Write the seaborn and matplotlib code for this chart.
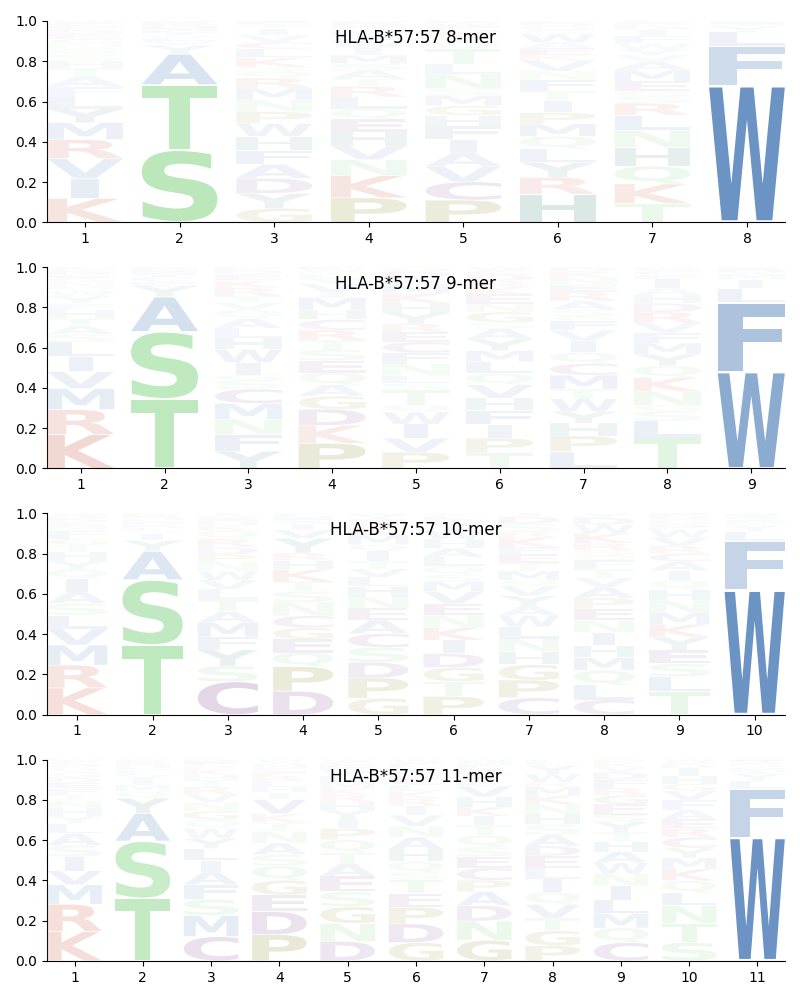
# logos de HLA-B*57:57, uno por largo de peptido
import matplotlib
matplotlib.use('Agg')
import matplotlib.pyplot as plt
import matplotlib.patheffects as pe
from matplotlib.transforms import Affine2D
import seaborn as sns

titles = ['HLA-B*57:57 8-mer', 'HLA-B*57:57 9-mer', 'HLA-B*57:57 10-mer', 'HLA-B*57:57 11-mer']

# letras de abajo hacia arriba en cada posicion, alturas en %
letters_8 = ["KIVRMYLFATHSQNGEDPCW", "STAYVLQIMFNEHGDKRCPW", "GYDAFHWPNMRQSKLCVITE", "PKNVHEQLRTASMIWYFGDC",
             "PCVAIFHGMSNLTQYKDEWR", "HRYLQMPITFNVKEAWSGDC", "TKQHNLRSGEMAVYWFIDPC", "WFLYIMVHTQSNAGKRDEPC"]
heights_8 = [
    [12, 10, 10, 9.5, 8.5, 7, 6, 5, 5, 4.5, 3.5, 3, 3, 2.5, 2.5, 2.5, 2, 2, 1.5, 1],
    [35.5, 32, 15, 4.5, 2, 1.5, 1.2, 1, .8, .8, .7, .6, .6, .5, .5, .4, .4, .3, .3, .2],
    [6.5, 7, 7, 6.5, 6.5, 6.5, 6, 5.5, 5.5, 5.5, 4.7, 3, 2, 4.5, 4, 3, 3.5, 3, 2, 1.5],
    [11.5, 10.5, 7.5, 6.5, 6.5, 6, 5, 5.5, 5, 3.5, 4, 3.3, 4, 3.5, 3.5, 2.5, 2, 2, 1.5, 1],
    [10.8, 8.8, 7.5, 6.5, 6.5, 6.5, 5.2, 4.8, 5, 3.2, 7, 4.8, 7.5, 3, 2.5, 2, 2, 1.5, 1.5, 1],
    [13.5, 8.2, 7.2, 6.5, 6, 6, 5.5, 5.5, 4.8, 5.5, 4.2, 5, 2.7, 3.3, 2.8, 4, 2, 1.8, 1.5, 1],
    [8.8, 9.2, 8.3, 8.8, 8, 7, 5.6, 3.3, 2.3, 4.8, 5.2, 4, 3, 2.5, 3, 3.5, 3, 1.5, 1.5, 1],
    [68, 19.5, 7, 3, .5, .4, .3, .2, .2, .15, .1, .1, .1, .1, .1, .1, .05, .05, .05, .05],
]

letters_9 = ["KRMVILSATHFYWQNGEDPC", "TSAYEVLQIMFNHGDKRCPW", "YFNMCSGIWHLAQVTRKEDP", "PKDGAQESTRCHMIVYLNWF",
             "PVIWQTSLNFCERYHKMADG", "TPIFHVQLMYASGNEKRDCW", "LPHYWTMCQIVFGSARENKD", "TLSGNKQYMFVRDHAIECWP",
             "WFLIMYVHTQSNAGKRDEPC"]
heights_9 = [
    [17, 12.5, 10.5, 8.5, 7.5, 7.3, 4, 4, 4, 4, 3.3, 3.7, 2.5, 2.3, 2.2, 2, 1.8, 1.5, 1.2, 1],
    [34.5, 33.5, 17.2, 5.5, 2, 1, .8, .7, .7, .6, .6, .5, .5, .4, .4, .3, .3, .2, .2, .1],
    [8.2, 8, 7.2, 7.5, 6.8, 4.3, 2.5, 5.8, 6.3, 5.3, 4.7, 4.6, 4, 3.6, 3, 4, 3.5, 2.8, 2, 1.5],
    [12, 8.5, 7.7, 6.3, 5.3, 5.8, 5.8, 5.2, 4.5, 4.8, 5, 4.7, 5.8, 2.7, 4, 2.2, 2, 1.6, 1.2, .8],
    [7.5, 6.5, 6.5, 5.5, 3.3, 7, 3, 3.5, 5.5, 5, 5, 4.5, 4, 5, 4.5, 4.5, 4, 3, 3, 2],
    [7.5, 7, 6.5, 6.8, 5.8, 6.5, 5.3, 5.7, 5.3, 5.5, 5, 3, 5, 4, 4.5, 3.5, 3, 3, 2, 1.5],
    [8, 7.2, 6, 5.5, 6, 4.5, 6.5, 5.5, 5.2, 5.5, 4.7, 4.7, 2, 3, 4.2, 4.2, 3.5, 3.3, 2.6, 2.2],
    [14.5, 8, 4.7, 2.7, 6.5, 6.7, 5.6, 5.5, 5.2, 5, 4.7, 5, 4.2, 4, 3.3, 4.3, 2, 1.5, 1, 1],
    [48, 34.5, 7, 4.5, 2.7, .6, .5, .4, .3, .3, .2, .2, .2, .1, .1, .1, .1, .1, .1, .1],
]

letters_10 = ["KRMVLSAIQYHTGFNEDPCW", "TSAYIQLMVFNEHGDKRCPW", "CSYFMATLVWNPDRQKHEGI", "DPQEGCNSTKHRYVIAFMLW",
              "GPDSCAENHLVTIQMKRFYW", "PTGDIKNEVMSQLAHWYRFC", "CPGHNLWAYVQMTEFKRSDI", "CLQMHINEPAVTFGSRKWDY",
              "TLSEYKMNHQIACRVWPGDF", "WFLYIMVHTQSNAGKRDEPC"]
heights_10 = [
    [13.3, 11.3, 10, 8, 6.7, 6, 5.7, 6.5, 4.8, 4, 4.6, 3.5, 3, 4, 2, 2, 1.6, 1.2, 1, .8],
    [34.5, 32.5, 14, 5.5, 3.5, 1.5, 1.3, 1, .9, .8, .7, .6, .6, .5, .5, .4, .4, .3, .3, .2],
    [15.8, 7.5, 7.8, 6.2, 6.8, 5.3, 6, 4.8, 4.3, 4.3, 4.5, 3.5, 3.5, 4, 4, 2.5, 2, 1.5, 1.2, 1],
    [11.3, 11.8, 6.7, 6.5, 5.5, 5.8, 6.5, 5.3, 4.8, 5.7, 4.3, 3.7, 7, 4, 3, 1.5, 1.2, 1, .8, .5],
    [7.7, 9.5, 7.3, 7, 6.5, 6.3, 5.7, 5.3, 4.8, 4.3, 4, 3.6, 4.7, 3, 4.7, 3, 2.5, 2, 1.5, 1],
    [8.5, 7, 6.5, 6.5, 6.2, 6, 5.7, 5.3, 5.7, 4.7, 3.2, 4, 4.2, 4.2, 4.2, 4, 3.5, 2, 1.5, 1],
    [8, 8.3, 7.3, 6.2, 6, 5.7, 5.3, 4.3, 5, 4.7, 2.7, 4.3, 3.7, 4.2, 3.3, 4.7, 2.5, 4, 3.3, 1.5],
    [7, 6.8, 7, 6, 5.7, 6, 5.7, 5.5, 5, 5.1, 4.5, 4, 4.2, 2.2, 2.5, 3.3, 4.7, 4, 3.3, 2],
    [11, 7.2, 6.2, 6.5, 6.2, 6, 5.7, 6, 5, 4.5, 4.7, 4.3, 3.7, 3.8, 4, 3.7, 2.5, 2.5, 1.5, 1.3],
    [61.5, 24, 5, 3, .8, .7, .6, .5, .4, .4, .4, .3, .3, .3, .3, .3, .2, .2, .1, .1],
]

letters_11 = ["KRMVISALYHNTFEDGQPCW", "TSAYQMIVLFNEHGDKRCPW", "CMSFAILYWQGNVRTHKPED", "PDEGQSANTKVIHLRFCMYW",
              "DNGSEATQPIYHRKMLVFCW", "GDPETSQHANVIRKLCMYFW", "GNDAPCESQTIKHVLYRFMW", "PGTVQILEDASHNKMRWYCF",
              "CQMLINWAHTYSEGRFDVKP", "STNLQKMYCREAFVGHIDPW", "WFLYIMVHTQSNAGKRDEPC"]
heights_11 = [
    [14.6, 13.7, 9.7, 7, 7, 5.8, 5.8, 5, 3.7, 4, 3.5, 3, 3.3, 3, 2.5, 2.5, 2, 2, 1.5, 1],
    [31, 28.5, 13.7, 7.7, 3.3, 3.3, 3.3, 1.5, 1.2, 1, .8, .8, .7, .7, .6, .5, .5, .4, .3, .3],
    [11.5, 10, 7.7, 7, 6, 5.5, 5.7, 4.7, 4.7, 4.2, 4.2, 4, 3.8, 3.8, 3, 2.5, 2.5, 2, 1.5, 1.3],
    [12.5, 11, 8, 7, 6.8, 5.5, 5.5, 5.5, 4.3, 4.2, 6.8, 3.3, 2.5, 3, 2.5, 2, 2, 1.8, 1.3, .7],
    [9, 8.5, 7.7, 7, 7.2, 5.8, 5.2, 6, 5.3, 4.3, 4.2, 3.8, 3.3, 3, 3, 3, 2.5, 2.5, 1.5, 1],
    [8.3, 8.5, 7.5, 6.3, 6.3, 3.3, 5, 5.5, 5.5, 5, 5, 4.2, 3.3, 3.3, 3, 3, 2.5, 2.5, 2, 1.5],
    [9.6, 9, 7.2, 6.5, 5.3, 5.7, 5.3, 4.5, 5.5, 4.7, 4.3, 4.2, 4.7, 5, 3, 2.5, 2.5, 2, 1.5, 1],
    [7.2, 7, 6, 6.3, 5.8, 6.3, 5, 5.8, 4.7, 5.2, 5, 4.7, 4.7, 4.2, 4, 2.3, 3.8, 3.8, 1.5, 1.5],
    [8.3, 6.7, 6.5, 6.3, 6.3, 5.5, 5, 5, 4.7, 4.2, 4.7, 3.3, 4.7, 4.2, 3.3, 3.8, 3.3, 2.5, 1.8, 1.5],
    [8.7, 9, 8.3, 6, 5.8, 5.5, 5.2, 4.7, 5, 4.2, 4.3, 4.5, 4.7, 4.2, 3.3, 3.7, 3.8, 1.5, 1.5, 1],
    [61, 24, 4, 3.5, .9, .8, .7, .6, .5, .5, .5, .4, .4, .4, .3, .3, .2, .2, .2, .1],
]

panels = [(letters_8, heights_8), (letters_9, heights_9), (letters_10, heights_10), (letters_11, heights_11)]
yticks = [0.0, 0.2, 0.4, 0.6, 0.8, 1.0]

group_colors = {'blue': (70/255, 120/255, 180/255), 'green': (110/255, 205/255, 110/255),
                'red': (200/255, 80/255, 55/255), 'purple': (126/255, 65/255, 145/255),
                'olive': (130/255, 130/255, 25/255), 'teal': (55/255, 130/255, 120/255)}
letter_group = {'A': 'blue', 'F': 'blue', 'I': 'blue', 'L': 'blue', 'M': 'blue', 'V': 'blue', 'W': 'blue',
                'S': 'green', 'T': 'green', 'N': 'green', 'Q': 'green',
                'K': 'red', 'R': 'red', 'D': 'purple', 'E': 'purple', 'C': 'purple',
                'G': 'olive', 'P': 'olive', 'H': 'teal', 'Y': 'teal'}


class StretchLetter(pe.AbstractPathEffect):
    # estira la letra hasta llenar su caja en coordenadas de datos
    def __init__(self, ax, x0, y0, w, h):
        super().__init__()
        self.ax, self.box = ax, (x0, y0, x0 + w, y0 + h)

    def draw_path(self, renderer, gc, tpath, affine, rgbFace=None):
        x0, y0, x1, y1 = self.box
        (px0, py0), (px1, py1) = self.ax.transData.transform([(x0, y0), (x1, y1)])
        ext = tpath.get_extents()
        t = (Affine2D().translate(-ext.x0, -ext.y0)
             .scale((px1 - px0) / ext.width, (py1 - py0) / ext.height)
             .translate(px0, py0))
        renderer.draw_path(gc, tpath, t, rgbFace)


def draw_logo(ax, letters, heights):
    for pos, (col, vals) in enumerate(zip(letters, heights), start=1):
        total = sum(vals)
        bottom = 0.0
        for letra, v in zip(col, vals):
            h = v / total
            ancho = 0.29 if letra == 'I' else 0.8
            box = (pos - ancho / 2, bottom + h * 0.015, ancho, h * 0.97)
            # fontsize chico: el tamano real lo da la caja del path effect
            ax.text(pos, bottom + h / 2, letra, fontweight='bold', fontsize=2, ha='center', va='center',
                    color=group_colors[letter_group[letra]], alpha=max(0.03, min(0.8, 1.3 * h)),
                    path_effects=[StretchLetter(ax, *box)])
            bottom += h
    n = len(letters)
    ax.set_xlim(0.6, n + 0.4)
    ax.set_ylim(0, 1)
    ax.set_xticks(range(1, n + 1))
    ax.set_yticks(yticks)
    sns.despine(ax=ax)


fig, axes = plt.subplots(4, 1, figsize=(8, 10))
fig.subplots_adjust(left=0.059, right=0.981, top=0.979, bottom=0.0392, hspace=0.223)
for ax, titulo, (letters, heights) in zip(axes, titles, panels):
    draw_logo(ax, letters, heights)
    ax.set_title(titulo, x=0.4995, y=0.89, pad=0)

fig.savefig('out.png', dpi=100)
